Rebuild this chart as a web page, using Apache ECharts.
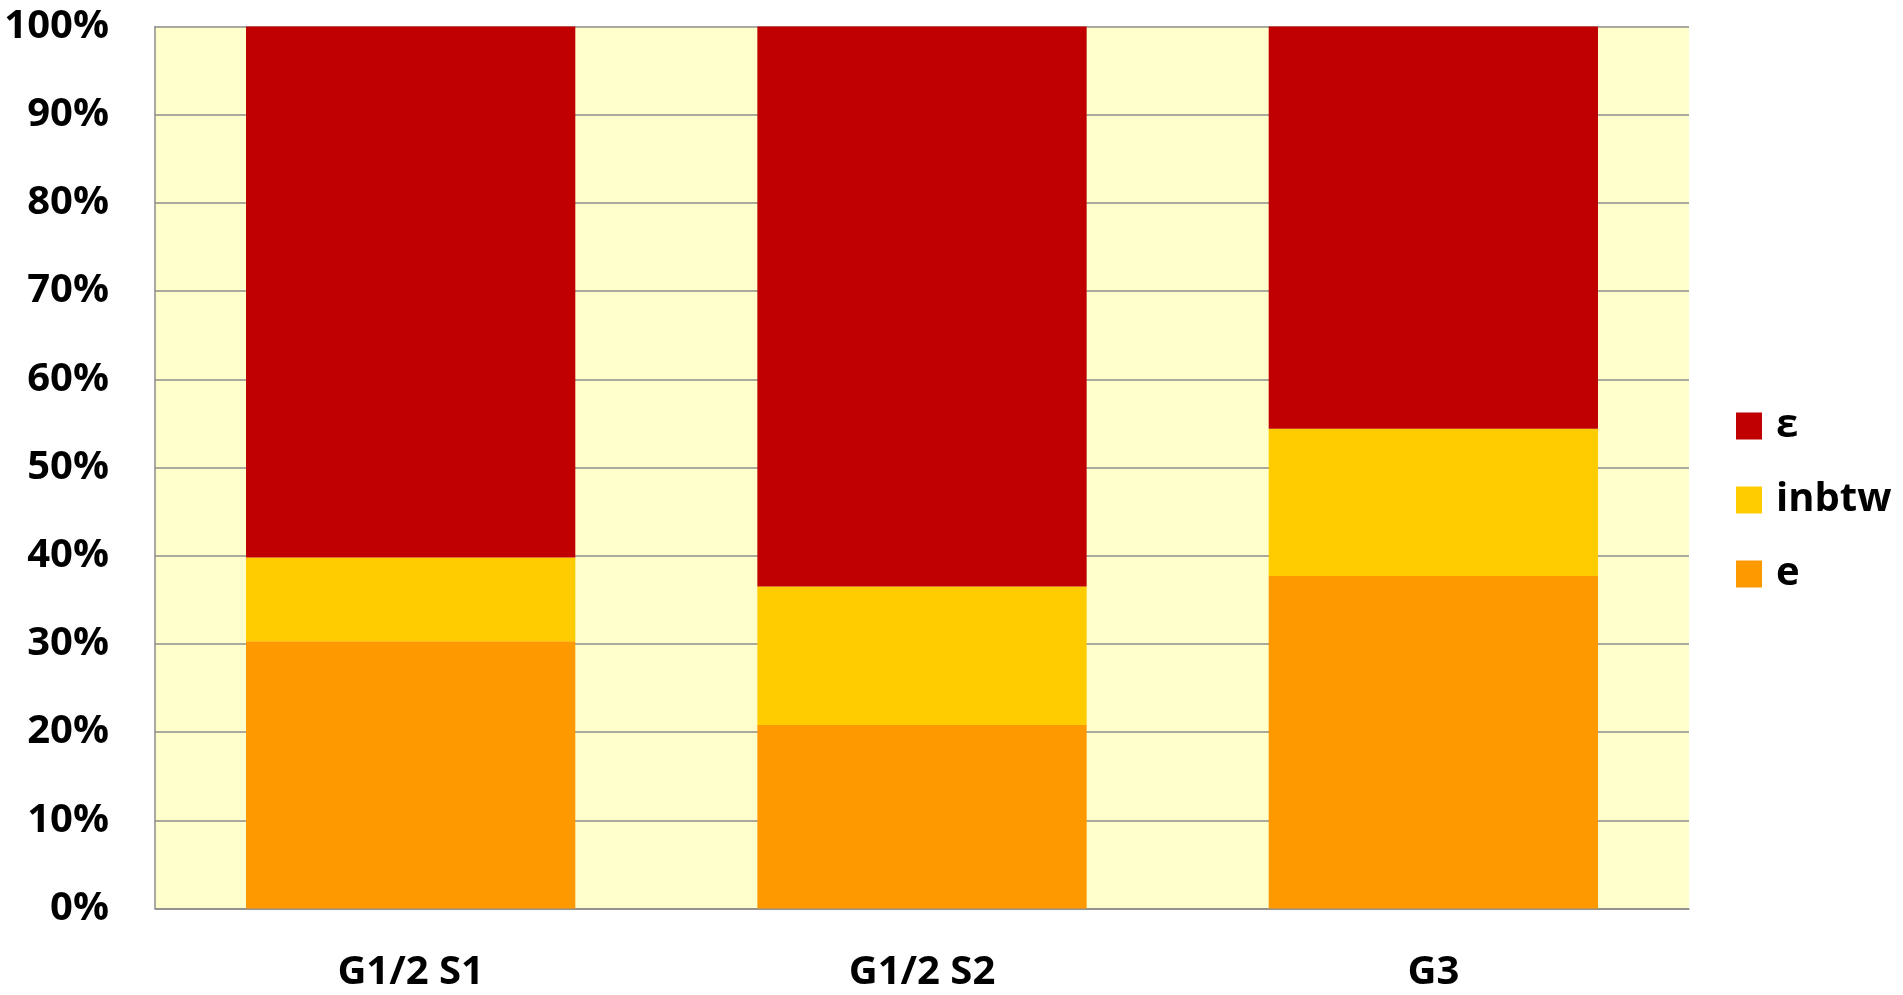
<!DOCTYPE html>
<html>
<head>
<meta charset="utf-8">
<script src="https://cdn.jsdelivr.net/npm/echarts@6/dist/echarts.min.js"></script>
<style>
  html, body { margin: 0; padding: 0; background: #ffffff; }
  #chart { width: 1903px; height: 995px; }
</style>
</head>
<body>
<div id="chart"></div>
<script>
// Groups along the x axis
const categories = ['G1/2 S1', 'G1/2 S2', 'G3'];

// Share of each pronunciation per group (percent, stacks to 100)
const eValues = [30.3, 20.8, 37.7];
const inbtwValues = [9.5, 15.7, 16.7];
const epsilonValues = [60.2, 63.5, 45.6];

// Y axis ticks
const yTicks = [0, 10, 20, 30, 40, 50, 60, 70, 80, 90, 100];

const FONT = '"Open Sans", Lato, "DejaVu Sans", sans-serif';
const FONT_SIZE = 40;
const gridGray = '#8c8c8c';

const chart = echarts.init(document.getElementById('chart'), null, { renderer: 'canvas' });

chart.setOption({
  backgroundColor: '#ffffff',
  animation: false,
  textStyle: { fontFamily: FONT },
  grid: {
    left: 155,
    right: 214,
    top: 26.5,
    bottom: 86.5,
    show: true,
    backgroundColor: '#FFFFCC',
    borderWidth: 0
  },
  legend: {
    orient: 'vertical',
    left: 1736,
    top: 406,
    padding: 0,
    itemWidth: 26,
    itemHeight: 27,
    itemGap: 34,
    icon: 'rect',
    data: ['ε', 'inbtw', 'e'],
    textStyle: {
      fontFamily: FONT,
      fontSize: FONT_SIZE,
      fontWeight: 'bold',
      color: '#000000',
      lineHeight: 40,
      padding: [0, 0, 0, 9]
    }
  },
  xAxis: {
    type: 'category',
    data: categories,
    axisLine: { show: true, lineStyle: { color: gridGray, width: 1.5 } },
    axisTick: { show: false },
    axisLabel: {
      margin: 44,
      fontFamily: FONT,
      fontSize: FONT_SIZE,
      fontWeight: 'bold',
      color: '#000000'
    },
    splitLine: { show: false }
  },
  yAxis: {
    type: 'value',
    min: yTicks[0],
    max: yTicks[yTicks.length - 1],
    interval: yTicks[1] - yTicks[0],
    axisLine: { show: true, lineStyle: { color: gridGray, width: 1.5 } },
    axisTick: { show: false },
    axisLabel: {
      margin: 46,
      padding: [6, 0, 0, 0],
      fontFamily: FONT,
      fontSize: FONT_SIZE,
      fontWeight: 'bold',
      color: '#000000',
      formatter: v => v + '%'
    },
    splitLine: { show: true, lineStyle: { color: gridGray, width: 1.5 } }
  },
  series: [
    {
      name: 'e',
      type: 'bar',
      stack: 'share',
      data: eValues,
      barCategoryGap: '35.6%',
      itemStyle: { color: '#FF9900' }
    },
    {
      name: 'inbtw',
      type: 'bar',
      stack: 'share',
      data: inbtwValues,
      barCategoryGap: '35.6%',
      itemStyle: { color: '#FFCC00' }
    },
    {
      name: 'ε',
      type: 'bar',
      stack: 'share',
      data: epsilonValues,
      barCategoryGap: '35.6%',
      itemStyle: { color: '#C00000' }
    }
  ]
});
</script>
</body>
</html>
